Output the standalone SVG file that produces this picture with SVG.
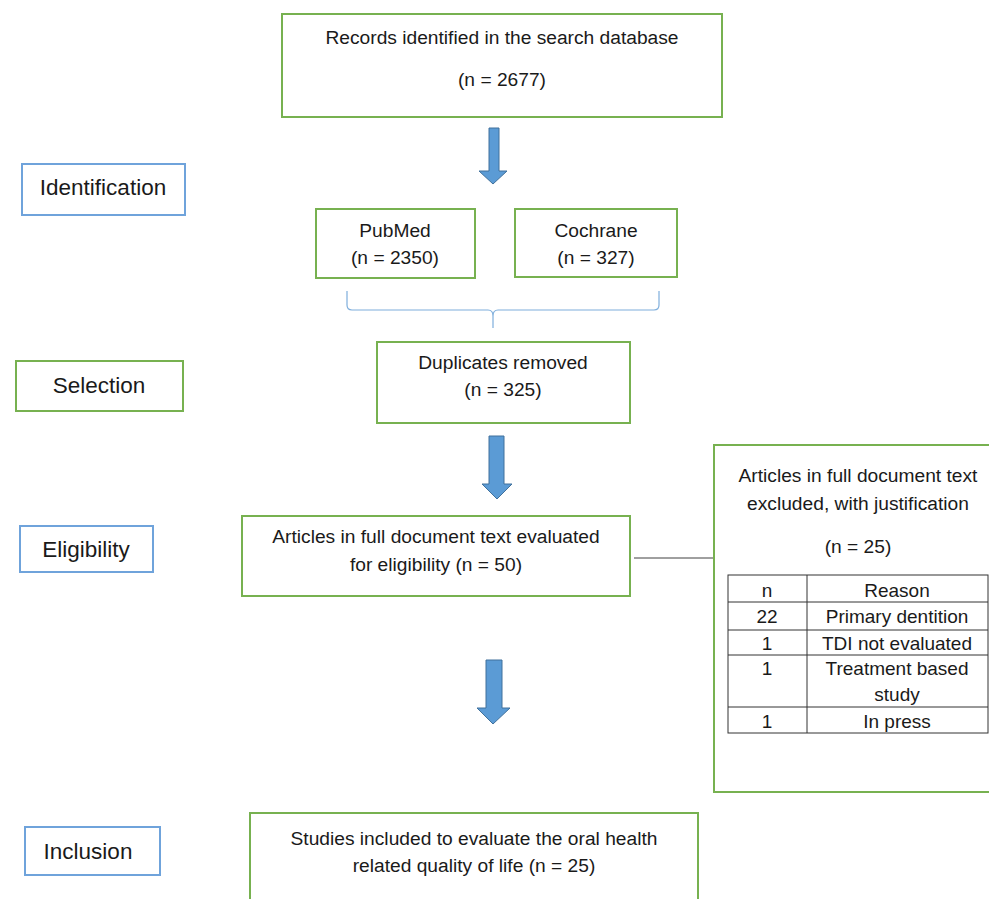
<svg xmlns="http://www.w3.org/2000/svg" width="989" height="899" viewBox="0 0 989 899">
<style>
text{font-family:"Liberation Sans",Arial,sans-serif;fill:#1a1a1a;text-anchor:middle}
.g{fill:#fff;stroke:#77B150;stroke-width:2}
.b{fill:#fff;stroke:#6FA3DB;stroke-width:2}
.t{font-size:19.2px}
.s{font-size:19px}
.l{font-size:22.5px}
.arrow{fill:#5B9BD5;stroke:#41719C;stroke-width:1}
.tbl{fill:none;stroke:#333;stroke-width:1}
</style>
<rect width="989" height="899" fill="#fff"/>
<g id="connectors">
<path class="arrow" d="M489,128 H499 V171 H507 L493,184 L479,171 H489 Z"/>
<path d="M347,291 V305 Q347,310 352,310 H488 Q493,310 493,316 V328 M493,328 V316 Q493,310 498,310 H654 Q659,310 659,305 V291" fill="none" stroke="#7EAEDC" stroke-width="1.2"/>
<path class="arrow" d="M489,436 H504 V484 H512 L497,499 L482,484 H489 Z"/>
<line x1="634" y1="558" x2="715" y2="558" stroke="#404040" stroke-width="1"/>
<path class="arrow" d="M486,660 H502 V708 H510 L493,724 L477,708 H486 Z"/>
</g>
<g id="records">
<rect class="g" x="282" y="14" width="440" height="103"/>
<text class="t" x="502" y="44">Records identified in the search database</text>
<text class="t" x="502" y="86">(n = 2677)</text>
</g>
<g id="identification">
<rect class="b" x="22" y="164" width="163" height="51"/>
<text class="l" x="103" y="195">Identification</text>
</g>
<g id="pubmed">
<rect class="g" x="316" y="209" width="159" height="69"/>
<text class="t" x="395" y="237">PubMed</text>
<text class="t" x="395" y="264">(n = 2350)</text>
</g>
<g id="cochrane">
<rect class="g" x="515" y="209" width="162" height="68"/>
<text class="t" x="596" y="237">Cochrane</text>
<text class="t" x="596" y="264">(n = 327)</text>
</g>
<g id="selection">
<rect class="g" x="16" y="361" width="167" height="50"/>
<text class="l" x="99" y="393">Selection</text>
</g>
<g id="duplicates">
<rect class="g" x="377" y="342" width="253" height="81"/>
<text class="t" x="503" y="369">Duplicates removed</text>
<text class="t" x="503" y="396">(n = 325)</text>
</g>
<g id="eligibility">
<rect class="b" x="20" y="526" width="133" height="46"/>
<text class="l" x="86" y="557">Eligibility</text>
</g>
<g id="fulltext">
<rect class="g" x="242" y="516" width="388" height="80"/>
<text class="t" x="436" y="543">Articles in full document text evaluated</text>
<text class="t" x="436" y="571">for eligibility (n = 50)</text>
</g>
<g id="excluded">
<rect class="g" x="714" y="445" width="285" height="347"/>
<text class="t" x="858" y="482">Articles in full document text</text>
<text class="t" x="858" y="510">excluded, with justification</text>
<text class="t" x="858" y="553">(n = 25)</text>
<g id="table">
<rect class="tbl" x="728" y="575" width="260" height="158"/>
<line class="tbl" x1="807" y1="575" x2="807" y2="733"/>
<line class="tbl" x1="728" y1="602" x2="988" y2="602"/>
<line class="tbl" x1="728" y1="630" x2="988" y2="630"/>
<line class="tbl" x1="728" y1="655" x2="988" y2="655"/>
<line class="tbl" x1="728" y1="707" x2="988" y2="707"/>
<text class="s" x="767" y="597">n</text>
<text class="s" x="897" y="597">Reason</text>
<text class="s" x="767" y="623">22</text>
<text class="s" x="897" y="623">Primary dentition</text>
<text class="s" x="767" y="650">1</text>
<text class="s" x="897" y="650">TDI not evaluated</text>
<text class="s" x="767" y="675">1</text>
<text class="s" x="897" y="675">Treatment based</text>
<text class="s" x="897" y="701">study</text>
<text class="s" x="767" y="728">1</text>
<text class="s" x="897" y="728">In press</text>
</g>
</g>
<g id="inclusion">
<rect class="b" x="25" y="827" width="135" height="48"/>
<text class="l" x="88" y="859">Inclusion</text>
</g>
<g id="included">
<rect class="g" x="250" y="813" width="448" height="100"/>
<text class="t" x="474" y="845">Studies included to evaluate the oral health</text>
<text class="t" x="474" y="872">related quality of life (n = 25)</text>
</g>
</svg>
